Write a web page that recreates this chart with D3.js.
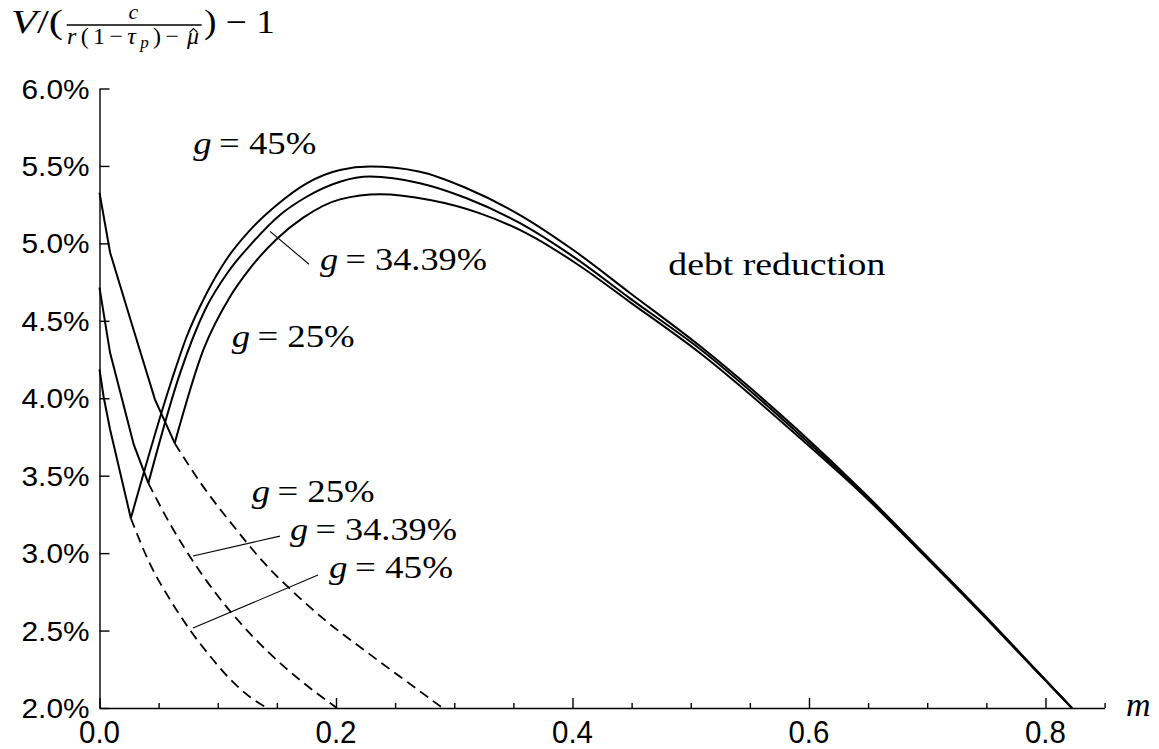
<!DOCTYPE html>
<html><head><meta charset="utf-8">
<script src="https://cdn.jsdelivr.net/npm/d3@7"></script>
<style>body{margin:0;background:#fff} svg{display:block}</style>
</head><body><svg id="c" width="1159" height="749"></svg>
<script>
// ---------- data (m, V/(...)-1 in %) ----------
const gLabels = ["25%", "34.39%", "45%"];
// solid left branches (from m = 0 down to the kink)
const leftM25 = [0, 0.009, 0.027, 0.047, 0.0636];
const leftV25 = [5.327, 4.94, 4.488, 3.99, 3.71];
const leftM34 = [0, 0.0089, 0.029, 0.0413];
const leftV34 = [4.714, 4.295, 3.70, 3.452];
const leftM45 = [0, 0.0034, 0.0089, 0.0265];
const leftV45 = [4.187, 4.013, 3.80, 3.225];
// solid "debt reduction" humps
const humpM25 = [0.0636, 0.0878, 0.1104, 0.1273, 0.1499, 0.1723, 0.2034, 0.2372, 0.2795, 0.3218, 0.3640, 0.4063, 0.4486, 0.5078, 0.5924, 0.6459, 0.6911, 0.7474, 0.7897, 0.8224];
const humpV25 = [3.71, 4.312, 4.656, 4.839, 5.028, 5.166, 5.284, 5.317, 5.280, 5.194, 5.054, 4.854, 4.621, 4.292, 3.743, 3.375, 3.033, 2.597, 2.258, 2.0];
const humpM34 = [0.0413, 0.0681, 0.0892, 0.1089, 0.1301, 0.1526, 0.1752, 0.2034, 0.2288, 0.2710, 0.3105, 0.3556, 0.4007, 0.4486, 0.5078, 0.5924, 0.6459, 0.6911, 0.7474, 0.7897, 0.8224];
const humpV34 = [3.452, 4.161, 4.570, 4.817, 5.011, 5.183, 5.301, 5.398, 5.431, 5.388, 5.291, 5.130, 4.914, 4.645, 4.318, 3.763, 3.385, 3.040, 2.602, 2.262, 2.0];
const humpM45 = [0.0265, 0.0611, 0.0737, 0.0906, 0.1089, 0.1273, 0.1499, 0.1752, 0.2034, 0.2288, 0.2710, 0.3105, 0.3556, 0.4007, 0.4486, 0.5078, 0.5924, 0.6459, 0.6911, 0.7474, 0.7897, 0.8224];
const humpV45 = [3.225, 4.118, 4.397, 4.678, 4.914, 5.086, 5.248, 5.388, 5.474, 5.496, 5.463, 5.356, 5.183, 4.957, 4.680, 4.337, 3.782, 3.395, 3.046, 2.607, 2.265, 2.0];
// dashed continuations
const dashM25 = [0.0636, 0.0850, 0.1160, 0.1385, 0.1639, 0.1921, 0.2231, 0.2569, 0.2901];
const dashV25 = [3.71, 3.459, 3.149, 2.943, 2.749, 2.559, 2.378, 2.187, 2.0];
const dashM34 = [0.0413, 0.0596, 0.0793, 0.0985, 0.1188, 0.1414, 0.1696, 0.2008];
const dashV34 = [3.452, 3.189, 2.945, 2.739, 2.552, 2.371, 2.180, 2.0];
const dashM45 = [0.0265, 0.0427, 0.0596, 0.0765, 0.0934, 0.1104, 0.1273, 0.1416];
const dashV45 = [3.225, 2.930, 2.701, 2.504, 2.336, 2.187, 2.071, 2.0];
// axes
const xMajor = [0, 0.2, 0.4, 0.6, 0.8];
const xMajorLabels = ["0.0", "0.2", "0.4", "0.6", "0.8"];
const xMinor = [0.05, 0.1, 0.15, 0.25, 0.3, 0.35, 0.45, 0.5, 0.55, 0.65, 0.7, 0.75, 0.85];
const yTicks = [2.0, 2.5, 3.0, 3.5, 4.0, 4.5, 5.0, 5.5, 6.0];
const yTickLabels = ["2.0%", "2.5%", "3.0%", "3.5%", "4.0%", "4.5%", "5.0%", "5.5%", "6.0%"];

// ---------- scales ----------
const svg = d3.select("#c");
const x = d3.scaleLinear().domain([0, 0.85]).range([99.5, 1104.6]);
const y = d3.scaleLinear().domain([2, 6]).range([708, 88.5]);
const zip = (ms, vs) => ms.map((m, i) => [m, vs[i]]);

// ---------- axes ----------
const xg = svg.append("g").attr("transform", `translate(0,${y(2)})`)
  .call(d3.axisBottom(x).tickValues(xMajor).tickSizeInner(-10).tickSizeOuter(0).tickFormat(""));
const xg2 = svg.append("g").attr("transform", `translate(0,${y(2)})`)
  .call(d3.axisBottom(x).tickValues(xMinor).tickSizeInner(-5).tickSizeOuter(0).tickFormat(""));
xg2.select(".domain").remove();
const yg = svg.append("g").attr("transform", `translate(${x(0)},0)`)
  .call(d3.axisLeft(y).tickValues(yTicks).tickSizeInner(-10).tickSizeOuter(0).tickFormat(""));
[xg, xg2, yg].forEach(g => {
  g.selectAll("path,line").attr("stroke", "#000").attr("stroke-width", 1.4);
});

svg.append("g").selectAll("text").data(xMajor).join("text")
  .attr("x", d => x(d)).attr("y", y(2) + 35)
  .attr("text-anchor", "middle")
  .attr("font-family", "'Liberation Sans', Arial, Helvetica, sans-serif")
  .attr("font-size", 31).attr("textLength", 41).attr("lengthAdjust", "spacingAndGlyphs")
  .text((d, i) => xMajorLabels[i]);

svg.append("g").selectAll("text").data(yTicks).join("text")
  .attr("x", x(0) - 10).attr("y", d => y(d) + 10)
  .attr("text-anchor", "end")
  .attr("font-family", "'Liberation Sans', Arial, Helvetica, sans-serif")
  .attr("font-size", 27).attr("textLength", 68).attr("lengthAdjust", "spacingAndGlyphs")
  .text((d, i) => yTickLabels[i]);

// ---------- curves ----------
const lineLin = d3.line().x(d => x(d[0])).y(d => y(d[1])).curve(d3.curveLinear);
const lineSmooth = d3.line().x(d => x(d[0])).y(d => y(d[1])).curve(d3.curveMonotoneX);

const solidLeft = [zip(leftM25, leftV25), zip(leftM34, leftV34), zip(leftM45, leftV45)];
const humps = [zip(humpM25, humpV25), zip(humpM34, humpV34), zip(humpM45, humpV45)];
const dashes = [zip(dashM25, dashV25), zip(dashM34, dashV34), zip(dashM45, dashV45)];

const cg = svg.append("g").attr("fill", "none").attr("stroke", "#000");
cg.selectAll(".l").data(solidLeft).join("path").attr("class", "l")
  .attr("d", lineLin).attr("stroke-width", 2);
cg.selectAll(".h").data(humps).join("path").attr("class", "h")
  .attr("d", lineSmooth).attr("stroke-width", 2);
cg.selectAll(".d").data(dashes).join("path").attr("class", "d")
  .attr("d", lineSmooth).attr("stroke-width", 1.8).attr("stroke-dasharray", "10,6");

// ---------- annotations (data coordinates) ----------
const leaders = [
  [[0.1442, 5.077], [0.1772, 4.865]],
  [[0.0791, 2.981], [0.1526, 3.110]],
  [[0.0791, 2.516], [0.1848, 2.858]]
];
svg.append("g").selectAll("path").data(leaders).join("path")
  .attr("d", lineLin).attr("fill", "none").attr("stroke", "#000").attr("stroke-width", 1.1);

const mathLabels = [
  {m: 0.0793, v: 5.577, g: gLabels[2], w: 123},
  {m: 0.1865, v: 4.828, g: gLabels[1], w: 167},
  {m: 0.1118, v: 4.333, g: gLabels[0], w: 123},
  {m: 0.1287, v: 3.332, g: gLabels[0], w: 123},
  {m: 0.1611, v: 3.085, g: gLabels[1], w: 167},
  {m: 0.1941, v: 2.837, g: gLabels[2], w: 124}
];
const serif = "'Liberation Serif', 'Times New Roman', serif";
const ml = svg.append("g").selectAll("text").data(mathLabels).join("text")
  .attr("x", d => x(d.m)).attr("y", d => y(d.v))
  .attr("font-family", serif).attr("font-size", 32)
  .attr("textLength", d => d.w).attr("lengthAdjust", "spacingAndGlyphs");
ml.append("tspan").attr("font-style", "italic").text("g");
ml.append("tspan").text(d => "\u2009= " + d.g);

svg.append("text").attr("x", x(0.481)).attr("y", y(4.796))
  .attr("font-family", serif).attr("font-size", 32)
  .attr("textLength", 217).attr("lengthAdjust", "spacingAndGlyphs")
  .text("debt reduction");

svg.append("text").attr("x", 1126).attr("y", 716)
  .attr("font-family", serif).attr("font-style", "italic").attr("font-size", 34)
  .text("m");

// ---------- title: V/( c / (r(1−τp)−μ̂) ) − 1 ----------
const t1 = svg.append("text").attr("x", 11).attr("y", 33)
  .attr("font-family", serif).attr("font-size", 33)
  .attr("textLength", 52).attr("lengthAdjust", "spacingAndGlyphs");
t1.append("tspan").attr("font-style", "italic").text("V");
t1.append("tspan").text("/(");
svg.append("line").attr("x1", 66.7).attr("x2", 201.7).attr("y1", 25).attr("y2", 25)
  .attr("stroke", "#000").attr("stroke-width", 1.4);
svg.append("text").attr("x", 133.5).attr("y", 18.5).attr("text-anchor", "middle")
  .attr("font-family", serif).attr("font-style", "italic").attr("font-size", 22).text("c");
const den = svg.append("text").attr("x", 67).attr("y", 43.5)
  .attr("font-family", serif).attr("font-size", 24)
  .attr("textLength", 112).attr("lengthAdjust", "spacing");
den.append("tspan").attr("font-style", "italic").text("r");
den.append("tspan").text("(1\u2212");
den.append("tspan").attr("font-style", "italic").text("\u03C4");
den.append("tspan").attr("font-style", "italic").attr("font-size", 17).attr("dy", 4).text("p");
den.append("tspan").attr("dy", -4).text(")\u2212");
svg.append("text").attr("x", 187).attr("y", 43.5)
  .attr("font-family", serif).attr("font-style", "italic").attr("font-size", 24)
  .text("\u03BC");
// circumflex accent over mu
svg.append("path").attr("d", "M189.5,32.5 L193.5,28.5 L197.5,32.5")
  .attr("fill", "none").attr("stroke", "#000").attr("stroke-width", 1.1);
svg.append("text").attr("x", 204).attr("y", 33)
  .attr("font-family", serif).attr("font-size", 33)
  .attr("textLength", 71).attr("lengthAdjust", "spacingAndGlyphs")
  .text(") \u2212 1");
</script></body></html>
